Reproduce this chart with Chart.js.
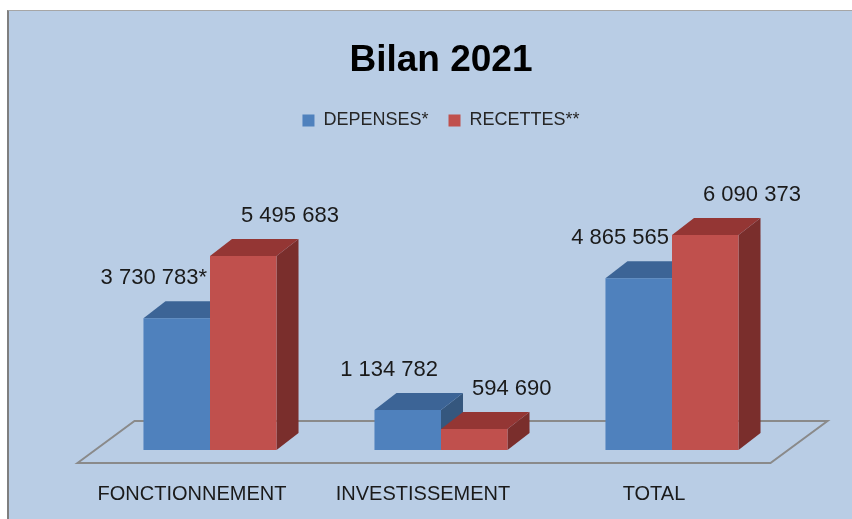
<!DOCTYPE html>
<html>
<head>
<meta charset="utf-8">
<script src="https://cdn.jsdelivr.net/npm/chart.js@4"></script>
<style>
    body { margin: 0; background: #fff; }
    #frame {
        position: absolute; left: 7px; top: 10px;
        width: 845px; height: 509px; box-sizing: border-box;
        border-left: 2px solid #7f7f7f; border-top: 1px solid #a6a6a6;
        background: #b9cde5;
    }
    canvas { display: block; }
</style>
</head>
<body>
<div id="frame"><canvas id="myChart" width="843" height="508"></canvas></div>
<script>
const categories = ['FONCTIONNEMENT', 'INVESTISSEMENT', 'TOTAL'];
const depenses = [3730783, 1134782, 4865565];
const recettes = [5495683, 594690, 6090373];
const depensesNotes = ['*', '', ''];
const recettesNotes = ['', '', ''];

const DX = 22, DY = 17;
const fmt = v => String(v).replace(/\B(?=(\d{3})+(?!\d))/g, ' ');

// floor, side and top faces go behind the front faces Chart.js draws
const bars3d = {
    id: 'bars3d',
    beforeDatasetsDraw(chart) {
        const {ctx, chartArea: a} = chart;
        ctx.save();
        ctx.strokeStyle = '#8a8a8a';
        ctx.lineWidth = 2;
        ctx.beginPath();
        ctx.moveTo(a.left - 17, a.bottom + 13);
        ctx.lineTo(a.left + 40, a.bottom - 29);
        ctx.lineTo(a.right + 40, a.bottom - 29);
        ctx.lineTo(a.right - 17, a.bottom + 13);
        ctx.closePath();
        ctx.stroke();

        const n = chart.data.labels.length;
        for (let i = 0; i < n; i++) {
            chart.data.datasets.forEach((ds, d) => {
                const bar = chart.getDatasetMeta(d).data[i];
                const x1 = bar.x - bar.width / 2, x2 = bar.x + bar.width / 2;
                const top = bar.y, bottom = bar.base;
                ctx.fillStyle = ds.sideColor;
                ctx.beginPath();
                ctx.moveTo(x2, top);
                ctx.lineTo(x2 + DX, top - DY);
                ctx.lineTo(x2 + DX, bottom - DY);
                ctx.lineTo(x2, bottom);
                ctx.closePath();
                ctx.fill();
                ctx.fillStyle = ds.topColor;
                ctx.beginPath();
                ctx.moveTo(x1, top);
                ctx.lineTo(x1 + DX, top - DY);
                ctx.lineTo(x2 + DX, top - DY);
                ctx.lineTo(x2, top);
                ctx.closePath();
                ctx.fill();
            });
        }
        ctx.restore();
    },
    afterDatasetsDraw(chart) {
        const {ctx} = chart;
        ctx.save();
        ctx.font = '22px "Liberation Sans", Arial, sans-serif';
        ctx.fillStyle = '#1a1a1a';
        ctx.textBaseline = 'middle';
        chart.data.datasets.forEach((ds, d) => {
            chart.getDatasetMeta(d).data.forEach((bar, i) => {
                const text = fmt(ds.data[i]) + ds.notes[i];
                if (d === 0) {
                    ctx.textAlign = 'right';
                    ctx.fillText(text, bar.x + bar.width / 2 - 3, bar.y - 40);
                } else {
                    ctx.textAlign = 'left';
                    ctx.fillText(text, bar.x - bar.width / 2 + 31, bar.y - 40);
                }
            });
        });
        ctx.restore();
    }
};

new Chart(document.getElementById('myChart'), {
    type: 'bar',
    data: {
        labels: categories,
        datasets: [
            {
                label: 'DEPENSES*',
                data: depenses,
                notes: depensesNotes,
                backgroundColor: '#4f81bd',
                topColor: '#3c6496',
                sideColor: '#35577e',
                categoryPercentage: 0.576,
                barPercentage: 1
            },
            {
                label: 'RECETTES**',
                data: recettes,
                notes: recettesNotes,
                backgroundColor: '#c0504d',
                topColor: '#943634',
                sideColor: '#7a2e2c',
                categoryPercentage: 0.576,
                barPercentage: 1
            }
        ]
    },
    options: {
        responsive: false,
        animation: false,
        layout: { padding: { left: 85.5, right: 64.5, top: 0, bottom: -19 } },
        plugins: {
            title: {
                display: true,
                text: 'Bilan 2021',
                color: '#000',
                font: { family: '"Liberation Sans", Arial, sans-serif', size: 37, weight: 'bold' },
                padding: { top: 28, bottom: 8 }
            },
            legend: {
                labels: {
                    boxWidth: 12,
                    boxHeight: 12,
                    padding: 20,
                    color: '#262626',
                    font: { family: '"Liberation Sans", Arial, sans-serif', size: 18 }
                }
            },
            tooltip: { enabled: false }
        },
        scales: {
            x: {
                grid: { display: false, drawTicks: false },
                border: { display: false },
                ticks: {
                    color: '#1a1a1a',
                    font: { family: '"Liberation Sans", Arial, sans-serif', size: 20 },
                    padding: 32,
                    labelOffset: -18,
                    maxRotation: 0,
                    autoSkip: false
                }
            },
            y: { display: false, min: 0, max: 8800000 }
        }
    },
    plugins: [bars3d]
});
</script>
</body>
</html>
